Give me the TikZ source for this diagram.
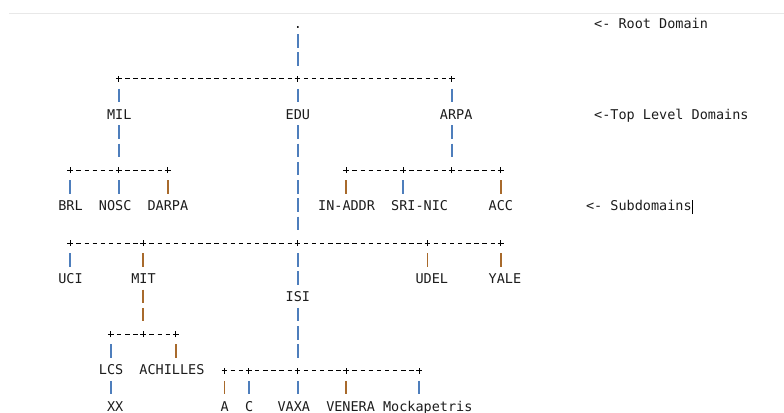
\documentclass[tikz,border=0pt]{standalone}
\usepackage{fontspec}
\newfontfamily\monofnt{DejaVu Sans Mono}
\usetikzlibrary{calc}
\definecolor{pipeblue}{RGB}{78,126,188}
\definecolor{pipebrown}{RGB}{168,106,44}
\definecolor{txt}{RGB}{28,28,28}
\definecolor{topline}{RGB}{232,232,232}
\newcommand\colC[1]{(13.36+8.12*(#1))}
\newcommand\colL[1]{(9.3+8.12*(#1))}
\newcommand\rowB[1]{(28.1+18.25*(#1))}
\begin{document}
\begin{tikzpicture}[x=0.75pt,y=-0.75pt,
  lbl/.style={anchor=base west, inner xsep=0pt, inner ysep=3.75pt, text height=6pt, text depth=0pt,
    font=\monofnt\fontsize{10.12pt}{12pt}\selectfont, text=txt},
  jn/.style={shape=rectangle, inner sep=0pt, minimum width=4.5pt, minimum height=13.5pt},
  hline/.style={draw=black, line width=0.75pt, dash pattern=on 3.3pt off 2.79pt, dash phase=3.9pt},
  vline/.style={line width=1.45pt, dash pattern=on 10.125pt off 3.5625pt, dash phase=13.125pt},
  bl/.style={vline, draw=pipeblue},
  br/.style={vline, draw=pipebrown},
  plusmk/.style={draw=black, line width=0.75pt}]
\useasboundingbox (0,0) rectangle (784,412);
\draw[topline, line width=0.75pt] (9,13) -- (784,13);

% labels
\node[lbl] (root) at ({\colL{35}},{\rowB{0}}) {.};
\node[lbl] (rootnote) at ({\colL{72}},{\rowB{0}}) {<- Root Domain};
\node[lbl] (MIL) at ({\colL{12}},{\rowB{5}}) {MIL};
\node[lbl] (EDU) at ({\colL{34}},{\rowB{5}}) {EDU};
\node[lbl] (ARPA) at ({\colL{53}},{\rowB{5}}) {ARPA};
\node[lbl] (tldnote) at ({\colL{72}},{\rowB{5}}) {<-Top Level Domains};
\node[lbl] (BRL) at ({\colL{6}},{\rowB{10}}) {BRL};
\node[lbl] (NOSC) at ({\colL{11}},{\rowB{10}}) {NOSC};
\node[lbl] (DARPA) at ({\colL{17}},{\rowB{10}}) {DARPA};
\node[lbl] (INADDR) at ({\colL{38}},{\rowB{10}}) {IN-ADDR};
\node[lbl] (SRINIC) at ({\colL{47}},{\rowB{10}}) {SRI-NIC};
\node[lbl] (ACC) at ({\colL{59}},{\rowB{10}}) {ACC};
\node[lbl] (subnote) at ({\colL{71}},{\rowB{10}}) {<- Subdomains};
\node[lbl] (UCI) at ({\colL{6}},{\rowB{14}}) {UCI};
\node[lbl] (MIT) at ({\colL{15}},{\rowB{14}}) {MIT};
\node[lbl] (UDEL) at ({\colL{50}},{\rowB{14}}) {UDEL};
\node[lbl] (YALE) at ({\colL{59}},{\rowB{14}}) {YALE};
\node[lbl] (ISI) at ({\colL{34}},{\rowB{15}}) {ISI};
\node[lbl] (LCS) at ({\colL{11}},{\rowB{19}}) {LCS};
\node[lbl] (ACHILLES) at ({\colL{16}},{\rowB{19}}) {ACHILLES};
\node[lbl] (XX) at ({\colL{12}},{\rowB{21}}) {XX};
\node[lbl] (A) at ({\colL{26}},{\rowB{21}}) {A};
\node[lbl] (C) at ({\colL{29}},{\rowB{21}}) {C};
\node[lbl] (VAXA) at ({\colL{33}},{\rowB{21}}) {VAXA};
\node[lbl] (VENERA) at ({\colL{39}},{\rowB{21}}) {VENERA};
\node[lbl] (Mock) at ({\colL{46}},{\rowB{21}}) {Mockapetris};

% text cursor
\draw[black, line width=0.7pt] ($(subnote.base east)+(0.6,3.5)$) -- ($(subnote.base east)+(0.6,-11)$);

% junctions
\foreach \n/\c/\r in {t13/13/3, t35/35/3, t54/54/3,
    m7/7/8, m13/13/8, m19/19/8, m41/41/8, m48/48/8, m54/54/8, m60/60/8,
    s7/7/12, s16/16/12, s35/35/12, s51/51/12, s60/60/12,
    k12/12/17, k16/16/17, k20/20/17,
    v26/26/19, v29/29/19, v35/35/19, v41/41/19, v50/50/19}
  \node[jn] (\n) at ({\colC{\c}},{\rowB{\r}-4}) {};
\foreach \n in {t13, t35, t54, m7, m13, m19, m41, m48, m54, m60,
    s7, s16, s35, s51, s60, k12, k16, k20, v26, v29, v35, v41, v50}
  \draw[plusmk] (\n.center) ++(-2.2pt,0) -- ++(4.4pt,0) (\n.center) ++(0,-2.2pt) -- ++(0,4.4pt);

% horizontal connectors
\foreach \a/\b in {t13/t35, t35/t54, m7/m13, m13/m19, m41/m48, m48/m54, m54/m60,
    s7/s16, s16/s35, s35/s51, s51/s60, k12/k16, k16/k20,
    v26/v29, v29/v35, v35/v41, v41/v50}
  \draw[hline] (\a) -- (\b);

% vertical connectors
\draw[bl] (root.south -| t35) -- (t35);
\draw[bl] (t13) -- (t13 |- MIL.north);
\draw[bl] (t35) -- (t35 |- EDU.north);
\draw[bl] (t54) -- (t54 |- ARPA.north);
\draw[bl] (MIL.south -| m13) -- (m13);
\draw[bl] (ARPA.south -| m54) -- (m54);
\draw[bl] (EDU.south -| s35) -- (s35);
\draw[bl] (m7) -- (m7 |- BRL.north);
\draw[bl] (m13) -- (m13 |- NOSC.north);
\draw[br] (m19) -- (m19 |- DARPA.north);
\draw[br] (m41) -- (m41 |- INADDR.north);
\draw[bl] (m48) -- (m48 |- SRINIC.north);
\draw[br] (m60) -- (m60 |- ACC.north);
\draw[bl] (s7) -- (s7 |- UCI.north);
\draw[br] (s16) -- (s16 |- MIT.north);
\draw[br] (s51) -- (s51 |- UDEL.north);
\draw[br] (s60) -- (s60 |- YALE.north);
\draw[bl] (s35) -- (s35 |- ISI.north);
\draw[br] (MIT.south -| k16) -- (k16);
\draw[bl] (ISI.south -| v35) -- (v35);
\draw[bl] (k12) -- (k12 |- LCS.north);
\draw[br] (k20) -- (k20 |- ACHILLES.north);
\draw[bl] (LCS.south -| k12) -- (XX.north -| k12);
\draw[br] (v26) -- (v26 |- A.north);
\draw[bl] (v29) -- (v29 |- C.north);
\draw[bl] (v35) -- (v35 |- VAXA.north);
\draw[br] (v41) -- (v41 |- VENERA.north);
\draw[bl] (v50) -- (v50 |- Mock.north);
\end{tikzpicture}
\end{document}
